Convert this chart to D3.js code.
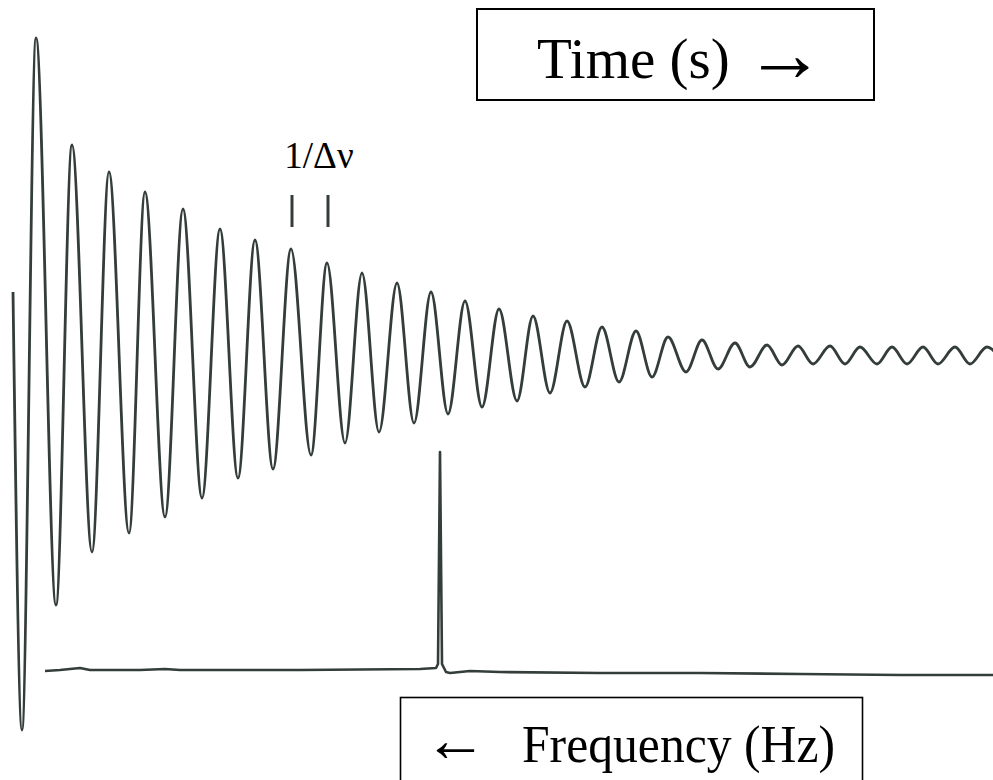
<!DOCTYPE html>
<html>
<head>
<meta charset="utf-8">
<script src="https://cdn.jsdelivr.net/npm/d3@7"></script>
<style>
  html, body { margin: 0; padding: 0; background: #ffffff; }
  svg { display: block; }
</style>
</head>
<body>
<div id="chart"></div>
<script>
const width = 993;
const height = 780;

// free induction decay: time of each turning point and its amplitude
const fidTime = [0, 9, 23, 43, 59, 79, 96, 116, 132, 152,
                 170, 189, 207, 225, 242, 260, 278, 298, 314, 332,
                 349, 366, 384, 401, 418, 435, 452, 469, 486, 504,
                 520, 537, 554, 572, 589, 606, 623, 639, 655, 673,
                 689, 705, 722, 737, 754, 769, 785, 800, 817, 832,
                 847, 864, 879, 894, 910, 925, 942, 957, 974, 990]
const fidAmp = [63, -375, 317, -250, 210, -197, 183, -178, 163, -162,
                146, -143, 126, -123, 115, -114, 106, -100, 92, -88,
                82, -77, 72, -68, 63, -59, 54, -52, 46, -46,
                39, -38, 34, -32, 28, -27, 24, -22, 18, -17,
                15, -14, 12, -12, 10, -10, 9, -9, 9, -9,
                8, -9, 8, -9, 8, -9, 8, -9, 8, -9]

// spectrum: frequency (Hz, drawn right to left) and intensity
const specFreq = [948, 933, 913, 903, 853, 828, 813, 693, 573, 557,
                  555, 553, 551, 547, 543, 523, 493, 393, 293, 193, 93, 0]
const specAmp = [1, 2, 4, 2, 2, 3, 2, 2, 3, 4,
                 8, 220, 8, 0, -1, 1, 0, -1, -1, -2, -3, -3]

// the two peaks marked as one period
const markedPeaks = [278, 314]

const fidData = fidTime.map((t, i) => ({ t: t, a: fidAmp[i] }))
const specData = specFreq.map((f, i) => ({ f: f, a: specAmp[i] }))

const svg = d3.select("#chart").append("svg")
              .attr("width", width)
              .attr("height", height)

const xTime = d3.scaleLinear().domain([0, 980]).range([13, 993])
const yFid = d3.scaleLinear().domain([-400, 400]).range([755, -45])

const xFreq = d3.scaleLinear().domain([0, 948]).range([993, 45])
const ySpec = d3.scaleLinear().domain([0, 220]).range([672, 452])

const ink = "#333d3a"
const serif = "Liberation Serif, Times New Roman, serif"

const fidLine = d3.line()
                  .x(d => xTime(d.t))
                  .y(d => yFid(d.a))
                  .curve(d3.curveMonotoneX)

svg.append("path")
   .datum(fidData)
   .attr("d", fidLine)
   .attr("fill", "none")
   .attr("stroke", ink)
   .attr("stroke-width", 2.8)
   .attr("stroke-linejoin", "round")

const specLine = d3.line()
                   .x(d => xFreq(d.f))
                   .y(d => ySpec(d.a))

svg.append("path")
   .datum(specData)
   .attr("d", specLine)
   .attr("fill", "none")
   .attr("stroke", ink)
   .attr("stroke-width", 2.6)
   .attr("stroke-linejoin", "round")

// period marks
svg.selectAll("line.mark")
   .data(markedPeaks)
   .enter()
   .append("line")
   .attr("class", "mark")
   .attr("x1", d => xTime(d) + 1)
   .attr("x2", d => xTime(d) + 1)
   .attr("y1", 195)
   .attr("y2", 227)
   .attr("stroke", ink)
   .attr("stroke-width", 3)

svg.append("text")
   .text("1/Δν")
   .attr("x", 319)
   .attr("y", 168)
   .attr("text-anchor", "middle")
   .style("font-family", serif)
   .style("font-size", "37px")
   .attr("fill", "#000")

// time box
svg.append("rect")
   .attr("x", 477)
   .attr("y", 9)
   .attr("width", 397)
   .attr("height", 91)
   .attr("fill", "none")
   .attr("stroke", "#000")
   .attr("stroke-width", 2)

svg.append("text")
   .text("Time (s)")
   .attr("x", 537)
   .attr("y", 78)
   .style("font-family", serif)
   .style("font-size", "57px")
   .attr("fill", "#000")

svg.append("text")
   .text("→")
   .attr("x", 745)
   .attr("y", 81)
   .style("font-family", serif)
   .style("font-size", "80px")
   .attr("fill", "#000")

// frequency box
svg.append("rect")
   .attr("x", 400.5)
   .attr("y", 697.5)
   .attr("width", 462)
   .attr("height", 120)
   .attr("fill", "none")
   .attr("stroke", "#000")
   .attr("stroke-width", 1.6)

svg.append("text")
   .text("←")
   .attr("x", 424)
   .attr("y", 761)
   .style("font-family", serif)
   .style("font-size", "63px")
   .attr("fill", "#000")

svg.append("text")
   .text("Frequency (Hz)")
   .attr("x", 522)
   .attr("y", 762)
   .attr("textLength", 313)
   .attr("lengthAdjust", "spacingAndGlyphs")
   .style("font-family", serif)
   .style("font-size", "53px")
   .attr("fill", "#000")
</script>
</body>
</html>
